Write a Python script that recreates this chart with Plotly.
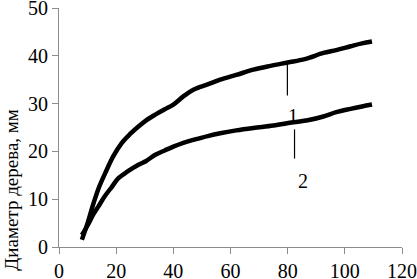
import plotly.graph_objects as go

age1 = [8, 10, 12, 14, 16.2, 19, 22, 25, 27.8, 30.5, 33.7, 37, 40, 43.5, 47, 52, 56.4, 62, 68, 74, 80, 86, 92.5, 97, 102, 106, 109.5]
diam1 = [1.5, 5, 9, 12.5, 15.5, 19, 21.8, 23.7, 25.2, 26.5, 27.7, 28.8, 29.8, 31.5, 32.9, 34, 35, 36, 37.1, 37.9, 38.6, 39.3, 40.6, 41.2, 42, 42.6, 43]
age2 = [8, 10, 12, 13.8, 16, 18.5, 20.8, 24, 27.8, 30.5, 33.7, 37, 40, 43.5, 47, 52, 56.4, 62, 68, 75, 82, 87, 92.5, 97, 102, 106, 109.5]
diam2 = [2.5, 4.5, 6.8, 8.5, 10.6, 12.6, 14.4, 15.8, 17.2, 18, 19.3, 20.2, 21, 21.8, 22.4, 23.2, 23.8, 24.4, 24.9, 25.4, 26.1, 26.5, 27.3, 28.2, 28.9, 29.4, 29.8]

x_ticks = [0, 20, 40, 60, 80, 100, 120]
y_ticks = [0, 10, 20, 30, 40, 50]
y_title = "Диаметр дерева, мм"
labels = ["1", "2"]
leader_x = [79.9, 82.4]
leader_y0 = [38.6, 24.6]
leader_y1 = [31.7, 18.5]
label_pos = [(81.7, 27.5), (85.4, 13.9)]

FONT = "Liberation Serif, Times New Roman, serif"

fig = go.Figure()
for xs, ys in [(age1, diam1), (age2, diam2)]:
    fig.add_trace(go.Scatter(x=xs, y=ys, mode="lines",
                             line=dict(color="black", width=4.5, shape="spline"),
                             showlegend=False))

for i in range(2):
    fig.add_shape(type="line", x0=leader_x[i], x1=leader_x[i], y0=leader_y0[i], y1=leader_y1[i],
                  line=dict(color="black", width=1.2))
    fig.add_annotation(x=label_pos[i][0], y=label_pos[i][1], text=labels[i], showarrow=False,
                       font=dict(family=FONT, size=20, color="black"))

fig.add_annotation(xref="paper", yref="paper", x=-0.137, y=0.24, text=y_title,
                   textangle=-90, showarrow=False, xanchor="center", yanchor="middle",
                   font=dict(family=FONT, size=19, color="black"))

axis_common = dict(showgrid=False, zeroline=False, showline=True, linecolor="#8c8c8c", linewidth=1,
                   ticks="outside", ticklen=6, tickcolor="#8c8c8c", tickwidth=1, automargin=False,
                   ticklabeloverflow="allow",
                   tickfont=dict(family=FONT, size=20, color="black"))
fig.update_xaxes(range=[0, 120], tickvals=x_ticks, ticktext=[str(v) for v in x_ticks], **axis_common)
fig.update_yaxes(range=[0, 50], tickvals=y_ticks, ticktext=[str(v) for v in y_ticks], **axis_common)

fig.update_layout(width=417, height=279, margin=dict(l=59, r=15, t=8, b=32),
                  font=dict(family=FONT),
                  plot_bgcolor="white", paper_bgcolor="white")
fig.write_html("out.html", config={"displayModeBar": False},
               post_script="document.body.style.margin='0px';")
